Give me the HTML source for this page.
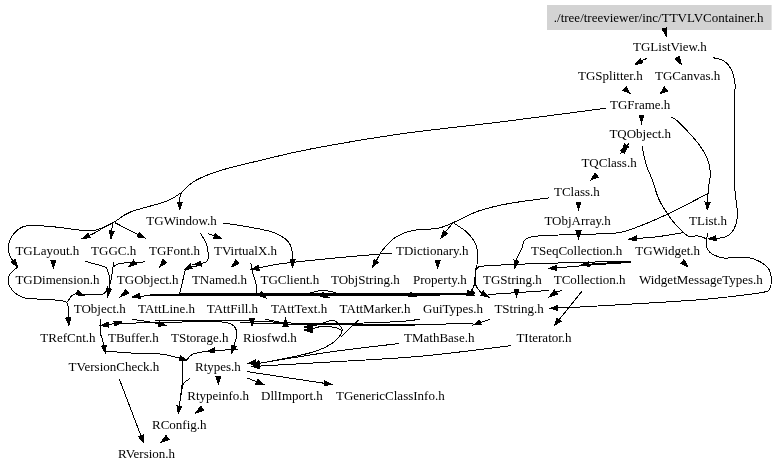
<!DOCTYPE html><html><head><meta charset="utf-8"><style>html,body{margin:0;padding:0;background:#fff;width:779px;height:471px;overflow:hidden}svg{display:block;filter:grayscale(1)}text{font-family:"Liberation Serif",serif;font-size:13px;fill:#000}</style></head><body>
<svg width="779" height="471" viewBox="0 0 779 471">
<rect x="547" y="5" width="224.6" height="25" fill="#d3d3d3"/>
<text x="553.8" y="21.7">./tree/treeviewer/inc/TTVLVContainer.h</text>
<text x="633" y="50.8">TGListView.h</text>
<text x="578" y="79.9">TGSplitter.h</text>
<text x="655" y="79.9">TGCanvas.h</text>
<text x="610" y="109.0">TGFrame.h</text>
<text x="609.4" y="138.1">TQObject.h</text>
<text x="581.4" y="167.2">TQClass.h</text>
<text x="554" y="196.3">TClass.h</text>
<text x="146.3" y="225.4">TGWindow.h</text>
<text x="544.4" y="225.4">TObjArray.h</text>
<text x="689" y="225.4">TList.h</text>
<text x="15.4" y="254.5">TGLayout.h</text>
<text x="91.1" y="254.5">TGGC.h</text>
<text x="149" y="254.5">TGFont.h</text>
<text x="214" y="254.5">TVirtualX.h</text>
<text x="396" y="254.5">TDictionary.h</text>
<text x="531" y="254.5">TSeqCollection.h</text>
<text x="635.3" y="254.5">TGWidget.h</text>
<text x="15.4" y="283.6">TGDimension.h</text>
<text x="116.8" y="283.6">TGObject.h</text>
<text x="191.9" y="283.6">TNamed.h</text>
<text x="260.5" y="283.6">TGClient.h</text>
<text x="331" y="283.6">TObjString.h</text>
<text x="413" y="283.6">Property.h</text>
<text x="483" y="283.6">TGString.h</text>
<text x="553.7" y="283.6">TCollection.h</text>
<text x="639" y="283.6">WidgetMessageTypes.h</text>
<text x="73.7" y="312.7">TObject.h</text>
<text x="138" y="312.7">TAttLine.h</text>
<text x="206.8" y="312.7">TAttFill.h</text>
<text x="271" y="312.7">TAttText.h</text>
<text x="339.6" y="312.7">TAttMarker.h</text>
<text x="423" y="312.7">GuiTypes.h</text>
<text x="494.4" y="312.7">TString.h</text>
<text x="40.3" y="341.8">TRefCnt.h</text>
<text x="108" y="341.8">TBuffer.h</text>
<text x="171" y="341.8">TStorage.h</text>
<text x="243" y="341.8">Riosfwd.h</text>
<text x="404" y="341.8">TMathBase.h</text>
<text x="516.4" y="341.8">TIterator.h</text>
<text x="68.6" y="370.9">TVersionCheck.h</text>
<text x="195" y="370.9">Rtypes.h</text>
<text x="187.3" y="400.0">Rtypeinfo.h</text>
<text x="261" y="400.0">DllImport.h</text>
<text x="336" y="400.0">TGenericClassInfo.h</text>
<text x="152" y="429.1">RConfig.h</text>
<text x="118" y="458.2">RVersion.h</text>
<g fill="none" stroke="#000" stroke-width="1" shape-rendering="crispEdges">
<path d="M647.0,58.3 L641.5,60.8"/>
<path d="M712.7,57.6 C714.6,58.2 720.8,58.8 724.0,61.0 C727.2,63.2 730.0,66.8 731.8,70.6 C733.6,74.4 734.5,79.6 735.0,84.0 C735.5,88.4 734.7,89.3 734.6,97.0 C734.5,104.7 734.3,116.2 734.3,130.0 C734.2,143.8 734.0,168.3 734.3,180.0 C734.6,191.7 735.5,193.9 736.0,200.0 C736.5,206.1 737.9,211.4 737.5,216.3 C737.1,221.2 735.6,226.3 733.7,229.7 C731.8,233.1 728.9,235.4 726.0,236.8 C723.1,238.2 718.2,238.0 716.5,238.3 C714.8,238.6 716.1,238.3 716.0,238.3"/>
<path d="M671.5,117.3 C672.6,118.0 673.7,117.3 678.0,121.5 C682.3,125.7 692.6,136.4 697.4,142.5 C702.2,148.6 704.8,152.7 707.0,157.8 C709.2,162.9 710.1,168.5 710.4,173.0 C710.7,177.5 709.2,181.3 708.8,185.0 C708.4,188.7 708.1,192.1 707.9,195.0 C707.7,197.9 707.7,200.9 707.6,202.1"/>
<path d="M708.0,193.4 C706.2,194.3 703.9,195.6 697.4,199.0 C690.9,202.4 678.3,209.1 668.7,213.6 C659.1,218.1 648.7,222.8 640.0,226.0 C631.3,229.2 626.6,231.6 616.5,233.0 C606.4,234.4 594.0,233.7 579.6,234.4 C565.2,235.1 539.9,234.8 530.3,237.1 C520.7,239.4 524.2,244.8 522.0,248.4 C519.8,252.0 517.7,256.7 516.8,258.7 C515.9,260.7 516.5,260.3 516.4,260.6"/>
<path d="M605.5,108.3 C587.9,110.6 534.2,117.7 500.0,122.0 C465.8,126.3 431.6,129.5 400.0,134.0 C368.4,138.5 332.9,144.8 310.5,149.0 C288.1,153.2 279.9,155.8 265.5,159.2 C251.1,162.6 235.3,166.0 223.8,169.5 C212.3,173.0 203.5,176.2 196.5,180.0 C189.5,183.8 184.8,189.0 182.0,192.2 C179.2,195.4 180.2,197.3 179.8,199.0 C179.4,200.7 179.8,201.6 179.8,202.1"/>
<path d="M182.0,192.2 C179.4,193.7 175.1,197.9 166.5,201.2 C157.9,204.5 139.1,208.6 130.5,212.0 C121.9,215.4 117.6,220.1 115.0,221.7"/>
<path d="M115.0,221.7 C113.6,222.4 110.2,223.9 106.8,225.8 C103.4,227.7 97.5,231.4 94.5,233.0 C91.5,234.6 90.0,235.0 89.0,235.4"/>
<path d="M113.0,223.0 C112.8,223.8 112.2,226.7 112.0,228.0 C111.8,229.3 111.8,230.5 111.7,231.0"/>
<path d="M115.0,222.7 C117.2,223.8 124.1,227.5 128.0,229.5 C131.9,231.5 136.4,233.8 138.1,234.6"/>
<path d="M111.0,223.8 C108.6,224.8 101.3,228.8 96.5,229.9 C91.7,231.0 89.4,230.8 82.2,230.3 C75.0,229.8 62.6,227.6 53.4,226.8 C44.1,226.1 33.2,224.8 26.7,225.8 C20.2,226.8 17.5,229.6 14.4,233.0 C11.3,236.4 8.9,242.4 8.2,246.3 C7.5,250.2 9.5,254.2 10.3,256.6 C11.1,259.0 12.7,260.1 13.2,260.8"/>
<path d="M549.4,197.8 C542.5,198.8 519.8,201.5 508.0,203.7 C496.2,205.9 487.7,207.8 478.6,211.0 C469.5,214.2 457.4,220.8 453.2,222.7"/>
<path d="M453.2,222.7 C452.2,223.9 448.3,228.4 447.0,230.0 C445.7,231.6 445.7,231.8 445.4,232.1"/>
<path d="M453.2,222.7 C450.6,223.6 444.4,227.0 437.8,228.3 C431.2,229.6 420.6,228.9 413.5,230.4 C406.4,231.9 400.1,234.3 395.0,237.6 C389.9,240.9 385.8,246.1 382.7,250.0 C379.6,253.9 377.3,259.1 376.2,260.9"/>
<path d="M453.2,222.7 C455.4,224.2 462.7,228.4 466.5,232.0 C470.3,235.6 474.0,240.3 475.8,244.3 C477.6,248.3 477.3,252.6 477.5,256.0 C477.7,259.4 477.3,262.2 477.0,264.6 C476.7,267.0 475.9,267.4 475.6,270.3 C475.3,273.2 475.3,279.1 475.0,281.8 C474.7,284.5 474.3,284.9 473.6,286.5 C472.9,288.1 471.8,290.0 470.8,291.3 C469.8,292.6 468.0,293.7 467.4,294.2"/>
<path d="M642.0,146.3 C642.7,149.4 644.5,159.4 646.2,165.0 C647.9,170.6 650.2,174.2 652.4,180.0 C654.6,185.8 656.1,193.4 659.2,200.0 C662.4,206.6 667.6,214.2 671.3,219.3 C675.0,224.4 678.6,227.9 681.6,230.8 C684.6,233.7 686.7,235.8 689.3,236.6 C691.9,237.4 694.2,235.5 697.0,235.8 C699.8,236.1 704.5,238.1 706.0,238.5"/>
<path d="M682.9,232.7 C678.8,233.3 666.2,235.6 658.5,236.6 C650.8,237.6 640.1,238.2 636.5,238.5"/>
<path d="M707.3,233.4 C707.2,235.7 706.0,243.6 706.8,247.0 C707.6,250.4 709.1,252.0 711.9,253.8 C714.7,255.6 718.1,257.4 723.8,258.0 C729.5,258.6 739.9,256.6 745.9,257.2 C751.9,257.8 755.7,259.4 759.5,261.4 C763.3,263.4 766.8,266.0 768.8,269.0 C770.8,272.0 771.2,276.0 771.4,279.3 C771.5,282.6 770.8,286.5 769.7,288.6 C768.6,290.7 770.6,290.7 764.6,292.0 C758.6,293.3 744.8,295.0 734.0,296.3 C723.2,297.6 715.0,298.5 700.0,299.7 C685.0,300.9 664.3,302.1 644.3,303.3 C624.3,304.5 594.4,306.2 580.0,307.0 C565.6,307.8 561.6,307.9 557.9,308.0"/>
<path d="M631.0,261.5 C625.8,261.8 607.0,263.0 600.0,263.5 C593.0,264.0 590.9,264.1 589.1,264.2"/>
<path d="M631.0,261.0 C622.8,261.2 598.4,261.9 581.6,262.4 C564.8,262.9 546.3,263.2 530.0,263.8 C513.7,264.4 492.3,265.4 483.7,266.0 C475.1,266.6 479.7,266.7 478.4,267.4 C477.1,268.1 476.6,267.9 476.0,270.3 C475.4,272.7 474.8,278.9 475.0,281.8 C475.2,284.7 476.0,285.8 477.0,287.5 C478.0,289.2 480.0,291.4 480.8,292.3 C481.6,293.2 481.9,293.0 482.1,293.1"/>
<path d="M631.0,262.4 C624.8,262.8 606.5,263.9 594.0,264.8 C581.5,265.7 562.6,267.4 556.3,267.9"/>
<path d="M392.0,253.0 C381.7,253.9 348.7,256.7 330.0,258.5 C311.3,260.3 291.9,262.3 280.0,263.9 C268.1,265.5 262.3,267.3 258.8,268.0"/>
<path d="M223.4,223.2 C227.0,223.7 236.6,224.8 245.0,226.3 C253.4,227.9 266.6,229.9 273.8,232.5 C281.0,235.1 285.1,238.4 288.2,241.7 C291.3,244.9 291.6,249.0 292.3,252.0 C293.0,255.0 292.5,258.6 292.5,259.9"/>
<path d="M208.0,233.5 L214.4,235.9"/>
<path d="M200.2,233.0 C201.3,234.8 205.3,240.7 206.6,244.1 C207.9,247.5 208.1,250.8 208.2,253.6 C208.3,256.4 208.5,259.2 207.4,260.8 C206.3,262.4 202.9,263.0 201.8,263.5 C200.7,264.0 201.2,263.6 201.0,263.6"/>
<path d="M200.0,265.6 C198.7,265.8 194.6,266.2 192.3,266.7 C190.0,267.2 187.3,267.5 186.0,268.8 C184.7,270.1 185.0,271.8 184.3,274.3 C183.6,276.8 182.8,280.6 182.0,283.9 C181.2,287.2 179.9,292.3 179.5,294.0"/>
<path d="M144.7,261.2 C143.8,261.4 143.4,262.4 139.5,262.7 C135.6,263.0 125.1,262.7 121.0,263.2 C116.9,263.7 116.2,265.1 114.9,265.8 C113.6,266.5 113.7,267.1 113.4,267.3"/>
<path d="M250.8,262.6 C251.2,264.6 252.3,270.9 253.2,274.6 C254.1,278.3 255.8,281.7 256.3,284.8 C256.8,287.9 256.1,292.1 256.0,293.5"/>
<path d="M85.1,261.2 C86.8,261.7 92.0,263.2 95.4,264.2 C98.8,265.2 103.6,265.9 105.7,267.3 C107.8,268.7 107.5,270.6 108.2,272.5 C108.9,274.4 109.6,276.4 109.8,278.6 C110.0,280.8 109.5,284.1 109.3,285.8 C109.1,287.5 108.9,288.2 108.9,288.7"/>
<path d="M113.4,262.2 C113.3,263.2 113.2,265.6 112.9,268.3 C112.6,271.0 111.8,276.0 111.3,278.6 C110.8,281.2 110.2,283.1 110.0,284.0"/>
<path d="M17.5,266.9 C16.2,268.2 11.1,272.6 9.5,275.0 C8.0,277.4 8.2,279.3 8.2,281.0 C8.1,282.7 8.2,283.4 9.2,285.3 C10.2,287.2 11.8,290.4 14.4,292.5 C17.0,294.6 20.2,296.9 24.6,298.0 C29.0,299.1 34.8,298.8 41.0,299.2 C47.2,299.6 57.1,299.8 61.6,300.7 C66.1,301.6 66.7,302.2 67.8,304.8 C68.9,307.4 68.1,313.8 68.2,316.0 C68.3,318.2 68.3,317.5 68.3,317.8"/>
<path d="M67.8,301.7 C68.3,300.9 69.5,298.0 70.9,296.6 C72.3,295.2 73.8,293.9 76.0,293.5 C78.2,293.1 81.6,294.3 84.0,294.5 C86.4,294.7 87.4,294.5 90.3,294.5 C93.2,294.5 99.0,294.9 101.6,294.5 C104.2,294.1 104.7,293.4 105.7,292.0 C106.7,290.6 107.4,286.8 107.7,285.8"/>
<path d="M139.0,296.5 L150.0,295.5 L227.0,294.2 L264.0,294.2 L470.0,294.5"/>
<path d="M150.0,294.5 L227.0,293.2 L264.0,293.2 L467.0,293.5"/>
<path d="M152.0,295.8 L227.0,295.2 L264.0,295.2 L440.0,295.5"/>
<path d="M310.0,293.0 C311.7,292.6 316.7,291.1 320.0,290.8 C323.3,290.5 327.0,290.7 330.0,291.2 C333.0,291.7 336.7,293.5 338.0,294.0"/>
<path d="M549.4,290.5 C543.9,290.9 526.8,291.9 516.5,292.6 C506.2,293.3 492.6,294.3 487.8,294.6"/>
<path d="M561.7,290.5 L556.0,292.0"/>
<path d="M582.0,291.2 L559.2,319.6"/>
<path d="M489.8,319.3 L480.5,322.5"/>
<path d="M473.4,323.5 C469.6,323.6 459.7,323.6 450.8,323.8 C441.9,324.1 436.5,324.8 420.0,325.0 C403.5,325.2 371.7,325.1 352.0,325.0 C332.3,324.9 320.3,324.8 301.6,324.4 C282.9,324.0 250.3,323.0 240.0,322.7"/>
<path d="M430.0,324.5 C417.0,324.4 371.7,324.2 352.0,324.0 C332.3,323.8 318.7,323.6 312.0,323.5"/>
<path d="M100.3,319.2 C100.3,321.4 100.0,329.3 100.3,332.6 C100.6,335.9 101.7,336.6 102.3,338.8 C102.9,341.0 103.6,344.5 103.8,345.7"/>
<path d="M108.0,324.6 C109.5,324.4 114.4,323.5 116.7,323.3 C119.0,323.1 112.5,323.5 121.8,323.3 C131.0,323.1 157.0,322.6 172.2,322.3 C187.4,322.0 203.3,321.0 213.2,321.3 C223.1,321.6 227.8,322.5 231.7,324.4 C235.6,326.3 236.3,329.5 236.8,332.6 C237.3,335.7 235.3,340.7 234.8,342.9 C234.3,345.1 234.0,345.4 233.9,345.9"/>
<path d="M132.1,319.2 C135.3,319.7 147.2,321.5 151.6,322.3 C156.0,323.1 157.5,323.6 158.7,323.8"/>
<path d="M155.0,320.6 C166.2,320.6 204.5,320.7 222.0,320.8 C239.5,320.9 250.3,320.9 260.0,321.2 C269.7,321.5 273.2,322.2 280.0,322.5 C286.8,322.8 287.0,323.1 301.0,323.2 C315.0,323.3 346.9,323.3 364.0,323.0 C381.1,322.7 394.4,321.8 403.7,321.2 C413.0,320.6 417.3,319.5 420.0,319.2"/>
<path d="M264.6,319.2 L283.1,322.7"/>
<path d="M104.4,351.0 C108.8,351.3 121.4,352.5 131.0,353.0 C140.6,353.5 153.8,353.3 161.9,354.2 C170.0,355.1 176.7,357.6 179.7,358.3"/>
<path d="M187.0,360.0 C187.9,359.0 189.0,355.7 192.7,354.2 C196.4,352.7 201.5,351.8 209.0,351.0 C216.5,350.2 233.1,349.7 237.9,349.4"/>
<path d="M312.0,329.0 C313.8,328.5 319.1,326.4 323.0,326.2 C326.9,326.0 332.4,326.9 335.5,327.7 C338.6,328.5 340.9,329.5 341.7,330.8 C342.5,332.1 341.7,333.3 340.2,335.4 C338.7,337.4 336.4,340.5 332.5,343.1 C328.6,345.7 323.7,348.5 317.0,350.8 C310.3,353.1 303.2,354.7 292.4,357.0 C281.6,359.3 259.1,363.4 252.4,364.7"/>
<path d="M312.0,326.4 C313.7,325.9 318.6,324.3 322.2,323.3 C325.8,322.3 330.3,319.8 333.4,320.3 C336.5,320.8 339.1,324.7 340.6,326.4 C342.2,328.1 342.4,329.8 342.7,330.5"/>
<path d="M358.7,320.0 C356.9,321.7 350.9,327.2 348.0,330.0 C345.1,332.8 342.2,335.8 341.0,337.0"/>
<path d="M399.4,343.5 C387.8,344.9 353.3,348.7 330.0,352.0 C306.7,355.3 271.2,361.4 259.4,363.3"/>
<path d="M511.4,345.6 C496.2,347.4 450.2,353.6 420.0,356.3 C389.8,359.0 356.8,360.4 330.0,362.0 C303.2,363.6 271.2,365.4 259.5,366.1"/>
<path d="M247.0,371.6 L324.4,383.3"/>
<path d="M247.0,378.0 L256.7,381.7"/>
<path d="M189.9,378.5 C188.8,379.4 184.9,381.1 183.4,384.0 C181.9,386.9 181.6,392.0 180.9,395.7 C180.2,399.4 179.6,404.4 179.4,406.2"/>
<path d="M182.7,360.0 C182.6,363.8 182.6,376.3 182.2,383.0 C181.8,389.7 180.4,397.2 180.0,400.0"/>
<path d="M119.3,379.0 L140.9,435.7"/>
</g><g fill="#000" stroke="#000" stroke-width="1" stroke-linejoin="miter" shape-rendering="crispEdges">
<polygon points="666.3,36.0 662.1,29.1 666.9,27.9"/>
<polygon points="635.0,64.8 640.2,58.7 642.8,62.9"/>
<polygon points="681.5,64.6 674.9,59.0 679.1,56.2"/>
<polygon points="630.0,93.5 622.8,90.3 626.1,86.6"/>
<polygon points="660.1,93.7 664.4,87.0 667.6,91.0"/>
<polygon points="708.5,238.8 715.8,235.8 716.1,240.8"/>
<polygon points="641.5,123.0 639.0,115.0 644.0,115.0"/>
<polygon points="707.3,209.6 705.1,202.0 710.1,202.2"/>
<polygon points="514.8,267.9 514.0,260.0 518.8,261.1"/>
<polygon points="179.8,209.6 177.3,202.1 182.3,202.1"/>
<polygon points="82.2,238.5 88.0,233.2 90.1,237.7"/>
<polygon points="111.0,238.5 109.2,230.8 114.2,231.3"/>
<polygon points="144.8,238.0 137.0,236.8 139.2,232.4"/>
<polygon points="17.5,266.9 11.2,262.2 15.3,259.3"/>
<polygon points="628.0,144.5 624.5,153.5 620.5,150.5"/>
<polygon points="621.0,153.0 624.5,144.0 628.5,147.0"/>
<polygon points="590.8,180.0 595.1,173.3 598.3,177.1"/>
<polygon points="578.5,209.5 576.0,202.0 581.0,202.0"/>
<polygon points="578.5,238.1 576.0,230.6 581.0,230.6"/>
<polygon points="440.9,238.1 443.4,230.6 447.4,233.6"/>
<polygon points="372.4,267.4 374.1,259.7 378.4,262.2"/>
<polygon points="629.0,239.2 636.3,236.1 636.7,241.0"/>
<polygon points="550.4,308.4 557.8,305.5 558.0,310.5"/>
<polygon points="581.6,264.7 588.9,261.7 589.2,266.7"/>
<polygon points="488.5,297.0 480.8,295.2 483.4,291.0"/>
<polygon points="548.8,268.5 556.1,265.4 556.5,270.4"/>
<polygon points="688.0,266.7 680.6,263.3 684.0,259.7"/>
<polygon points="251.4,269.4 258.3,265.5 259.2,270.4"/>
<polygon points="437.8,268.0 435.3,260.5 440.3,260.5"/>
<polygon points="292.7,267.4 290.0,260.0 295.0,259.8"/>
<polygon points="221.4,238.6 213.5,238.3 215.3,233.6"/>
<polygon points="193.6,264.5 200.7,261.1 201.3,266.1"/>
<polygon points="184.5,269.5 190.3,264.1 192.4,268.6"/>
<polygon points="159.8,266.8 162.9,259.5 166.6,262.8"/>
<polygon points="129.0,266.5 133.5,260.0 136.5,264.0"/>
<polygon points="231.7,266.8 235.6,259.9 238.9,263.6"/>
<polygon points="53.4,267.9 50.9,260.4 55.9,260.4"/>
<polygon points="107.7,296.1 106.4,288.3 111.3,289.1"/>
<polygon points="120.6,296.6 125.7,289.4 128.7,293.4"/>
<polygon points="68.8,325.3 65.8,318.0 70.8,317.7"/>
<polygon points="84.0,295.5 76.0,294.8 78.0,290.2"/>
<polygon points="132.4,297.1 139.6,293.5 140.4,298.5"/>
<polygon points="266.0,298.0 258.6,295.3 261.7,291.4"/>
<polygon points="328.6,297.4 320.6,296.8 322.4,292.2"/>
<polygon points="416.8,297.0 408.7,296.9 410.3,292.1"/>
<polygon points="474.5,293.0 467.0,295.5 467.0,290.5"/>
<polygon points="466.0,295.0 472.9,290.6 474.1,295.4"/>
<polygon points="516.5,296.7 514.0,289.2 519.0,289.2"/>
<polygon points="549.4,296.7 554.5,290.0 557.5,294.0"/>
<polygon points="554.5,325.5 557.2,318.1 561.1,321.2"/>
<polygon points="473.4,325.0 479.7,320.2 481.3,324.9"/>
<polygon points="105.4,353.0 101.4,346.2 106.2,345.1"/>
<polygon points="100.8,325.4 108.0,322.1 108.5,327.1"/>
<polygon points="231.7,353.1 231.5,345.2 236.3,346.7"/>
<polygon points="121.8,322.0 115.0,326.0 113.9,321.1"/>
<polygon points="166.0,325.4 158.1,326.3 159.2,321.4"/>
<polygon points="252.0,326.0 249.5,318.5 254.5,318.5"/>
<polygon points="285.5,318.5 288.0,326.0 283.0,326.0"/>
<polygon points="187.0,360.0 179.1,360.7 180.3,355.9"/>
<polygon points="207.0,351.5 214.1,348.0 214.8,352.9"/>
<polygon points="304.5,327.0 312.0,324.5 312.0,329.5"/>
<polygon points="304.5,330.0 312.0,327.5 312.0,332.5"/>
<polygon points="252.0,364.5 259.0,360.8 259.8,365.8"/>
<polygon points="252.0,366.5 259.3,363.6 259.6,368.6"/>
<polygon points="248.0,363.5 255.2,360.0 255.8,365.0"/>
<polygon points="331.8,384.4 324.0,385.8 324.8,380.8"/>
<polygon points="263.7,384.4 255.8,384.1 257.6,379.4"/>
<polygon points="218.3,384.2 215.8,376.7 220.8,376.7"/>
<polygon points="178.3,413.6 176.9,405.8 181.9,406.5"/>
<polygon points="195.5,413.1 200.9,406.3 203.7,410.3"/>
<polygon points="161.0,442.4 166.0,435.5 169.0,439.5"/>
<polygon points="143.6,442.7 138.6,436.6 143.3,434.8"/>
</g></svg></body></html>
